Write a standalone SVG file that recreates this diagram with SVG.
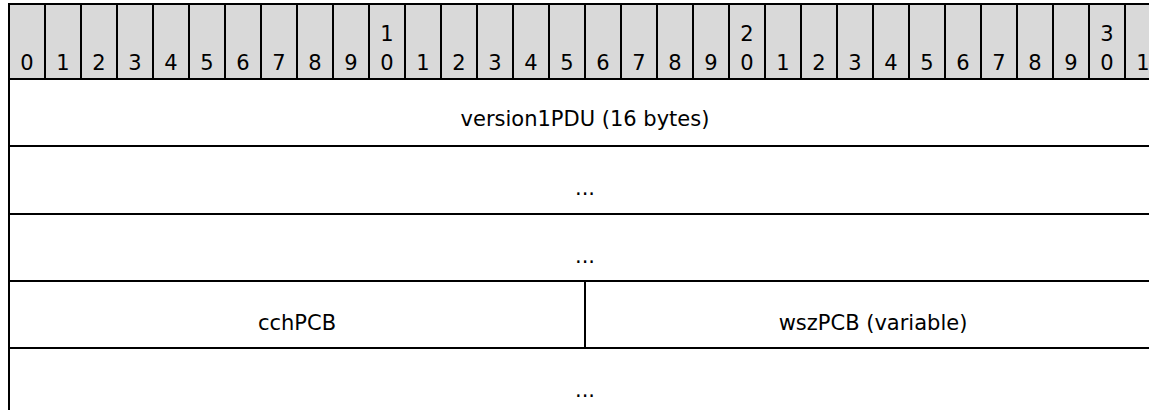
<svg xmlns="http://www.w3.org/2000/svg" width="1149" height="410" viewBox="0 0 1149 410">
<style>
.hdr{fill:#d9d9d9;stroke:#000;stroke-width:2}
.fld{fill:#fff;stroke:#000;stroke-width:2}
.t{font-family:"DejaVu Sans",Verdana,sans-serif;font-size:21px;fill:#000;text-anchor:middle}
</style>
<rect x="0" y="0" width="1149" height="410" fill="#fff"/>
<g id="header">
<rect class="hdr" x="9" y="4" width="36" height="75"/><text class="t" x="27" y="70">0</text>
<rect class="hdr" x="45" y="4" width="36" height="75"/><text class="t" x="63" y="70">1</text>
<rect class="hdr" x="81" y="4" width="36" height="75"/><text class="t" x="99" y="70">2</text>
<rect class="hdr" x="117" y="4" width="36" height="75"/><text class="t" x="135" y="70">3</text>
<rect class="hdr" x="153" y="4" width="36" height="75"/><text class="t" x="171" y="70">4</text>
<rect class="hdr" x="189" y="4" width="36" height="75"/><text class="t" x="207" y="70">5</text>
<rect class="hdr" x="225" y="4" width="36" height="75"/><text class="t" x="243" y="70">6</text>
<rect class="hdr" x="261" y="4" width="36" height="75"/><text class="t" x="279" y="70">7</text>
<rect class="hdr" x="297" y="4" width="36" height="75"/><text class="t" x="315" y="70">8</text>
<rect class="hdr" x="333" y="4" width="36" height="75"/><text class="t" x="351" y="70">9</text>
<rect class="hdr" x="369" y="4" width="36" height="75"/><text class="t" x="387" y="41">1</text><text class="t" x="387" y="70">0</text>
<rect class="hdr" x="405" y="4" width="36" height="75"/><text class="t" x="423" y="70">1</text>
<rect class="hdr" x="441" y="4" width="36" height="75"/><text class="t" x="459" y="70">2</text>
<rect class="hdr" x="477" y="4" width="36" height="75"/><text class="t" x="495" y="70">3</text>
<rect class="hdr" x="513" y="4" width="36" height="75"/><text class="t" x="531" y="70">4</text>
<rect class="hdr" x="549" y="4" width="36" height="75"/><text class="t" x="567" y="70">5</text>
<rect class="hdr" x="585" y="4" width="36" height="75"/><text class="t" x="603" y="70">6</text>
<rect class="hdr" x="621" y="4" width="36" height="75"/><text class="t" x="639" y="70">7</text>
<rect class="hdr" x="657" y="4" width="36" height="75"/><text class="t" x="675" y="70">8</text>
<rect class="hdr" x="693" y="4" width="36" height="75"/><text class="t" x="711" y="70">9</text>
<rect class="hdr" x="729" y="4" width="36" height="75"/><text class="t" x="747" y="41">2</text><text class="t" x="747" y="70">0</text>
<rect class="hdr" x="765" y="4" width="36" height="75"/><text class="t" x="783" y="70">1</text>
<rect class="hdr" x="801" y="4" width="36" height="75"/><text class="t" x="819" y="70">2</text>
<rect class="hdr" x="837" y="4" width="36" height="75"/><text class="t" x="855" y="70">3</text>
<rect class="hdr" x="873" y="4" width="36" height="75"/><text class="t" x="891" y="70">4</text>
<rect class="hdr" x="909" y="4" width="36" height="75"/><text class="t" x="927" y="70">5</text>
<rect class="hdr" x="945" y="4" width="36" height="75"/><text class="t" x="963" y="70">6</text>
<rect class="hdr" x="981" y="4" width="36" height="75"/><text class="t" x="999" y="70">7</text>
<rect class="hdr" x="1017" y="4" width="36" height="75"/><text class="t" x="1035" y="70">8</text>
<rect class="hdr" x="1053" y="4" width="36" height="75"/><text class="t" x="1071" y="70">9</text>
<rect class="hdr" x="1089" y="4" width="36" height="75"/><text class="t" x="1107" y="41">3</text><text class="t" x="1107" y="70">0</text>
<rect class="hdr" x="1125" y="4" width="36" height="75"/><text class="t" x="1143" y="70">1</text>
</g>
<g id="version1PDU">
<rect class="fld" x="9" y="79" width="1152" height="67"/>
<text class="t" x="585" y="126">version1PDU (16 bytes)</text>
</g>
<g id="cont1">
<rect class="fld" x="9" y="146" width="1152" height="68"/>
<text class="t" x="585" y="195">...</text>
</g>
<g id="cont2">
<rect class="fld" x="9" y="214" width="1152" height="67"/>
<text class="t" x="585" y="263">...</text>
</g>
<g id="cchPCB">
<rect class="fld" x="9" y="281" width="576" height="67"/>
<text class="t" x="297" y="330">cchPCB</text>
</g>
<g id="wszPCB">
<rect class="fld" x="585" y="281" width="576" height="67"/>
<text class="t" x="873" y="330">wszPCB (variable)</text>
</g>
<g id="cont3">
<rect class="fld" x="9" y="348" width="1152" height="80"/>
<text class="t" x="585" y="397">...</text>
</g>
</svg>
